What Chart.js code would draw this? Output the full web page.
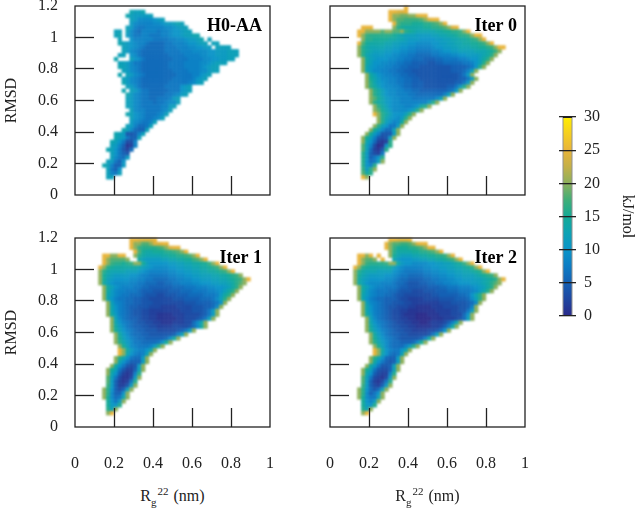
<!DOCTYPE html>
<html>
<head>
<meta charset="utf-8">
<script src="https://cdn.jsdelivr.net/npm/chart.js@4"></script>
<style>
body { margin: 0; background: #fff; overflow: hidden; }
canvas { position: absolute; }
.xname { position: absolute; width: 195px; text-align: center; font: 16px "Liberation Serif"; color: #222; line-height: 18px; }
.xname sub, .xname sup { font-size: 11px; margin-right: 1px; }
</style>
</head>
<body>
<canvas id="panel0" width="280" height="200" style="left:0;top:0"></canvas>
<canvas id="panel1" width="280" height="200" style="left:255px;top:0"></canvas>
<canvas id="panel2" width="280" height="250" style="left:0;top:225px"></canvas>
<canvas id="panel3" width="280" height="250" style="left:255px;top:225px"></canvas>
<canvas id="colorbar" width="97" height="230" style="left:540px;top:100px"></canvas>
<div class="xname" style="left:75px;top:482px">R<sub>g</sub><sup>22</sup> (nm)</div>
<div class="xname" style="left:330px;top:482px">R<sub>g</sub><sup>22</sup> (nm)</div>
<script>
// free energy cells in kJ/mol, one base-36 digit per cell, "." = no sampling
// rows run from RMSD 1.2 down in 0.025 steps, columns from Rg 0.12 up in 0.02 steps
var h0Rows = [
"",
"........dccd",
".......dcbbbbc",
"........cb9999abc",
"........b9888899abbcdc",
".......cb8778888899abcc",
"....cc.c97688887889aabcc",
"....cd.b97788777889aabccdd",
".....c..a8888877778899abbcd.c",
".....dcba98876666778889aabcc.cc",
"......cba9876666677788899aabb.cccc",
"......cb98766666677778889999aabbbccc",
".....cc.a9766666667777888899aabbbccc",
"....d...ca9766666667777888899aabbcc",
".....ccb97766666667777888899abccc",
".....dcb9876666666777788889abcc",
"......cb98766666666777788899bcc",
".....d.cb98766666666777788abc",
"......cb98766666666777778abc",
"......db98766666667777789bc",
".......cb976666667777abc",
"......d.cb97766666777abc",
".......db987766667789bc",
".......cb9877667778bc",
".......cb98777677899c",
".......cb987777788bc",
"........c988777789c",
".......dca9877789c",
"........ca987789c",
"........b98778c",
".......cb8667c",
"......dc9655c",
"....dcb4458c",
"....dcb755c",
"...dca7338",
"...cb85128",
"..dca7426",
"...ca754",
"...c976b",
"..cb75a",
".dc855b",
"..c75a",
"..c87c",
"..cc"
];
var iter0Rows = [
".............p",
".........ppoop",
".........pkkjjkkopp",
".........pkiihhhhikopp",
"..........pigggfffgghikp",
"..ppp.....kgfeeeeeffgghikop",
".ppkkkkikkiikgfedddddeeffgghkp",
".pkhggggggfedcccbbbbccddeefgghkpp",
"..kggffffeeddcbbbaaaabbccddeefghkp",
".pifeeeeddccbbaa9999aabbccddeeffghkp",
".kgeddddccbbaa9988889aabbccdddeeffghkpp",
".kgedcccbbaa99887777889aabbccccdddefhk",
".kgdcbbbaa99887766667788899aabbbcdegk",
"..kecbaaa998877666555667777889aacegk",
"..kecaa998877665555445566666778acgk",
"..kdba9988776655544444444555567agk",
"..kdb9988776655444444444455568ck",
"...keca988776655444444444445 7bk",
"...kfdb99887766554444444444557bk",
"...kgdba988776655544444444557bk",
"...kgeca9988766555444444557bgk",
"....kgeca99887766555555567bk",
"....kgeca998887766666668ck",
"....kifdba998887777779ck",
"....kgedba998888888bgk",
".....kgeca999889aegk",
".....kifdb9999acgk",
".....pkgecaaacgk",
"......kgdba9bgk",
"......kgca89ek",
".....kgca77bk",
"....kfc966ck",
"...kfb8444bk",
"..kfc8434bk",
"..kda6212g",
"..ic8301ag",
"..ic6214g",
"..gb5327",
"..gb57ag",
"..ga67ck",
"..ga8g",
"..hbgk",
"..ieg",
"..pk"
];
var iter1Rows = [
"........ppoooop",
"........pkkiikoopp",
"........pkhgggghikopp",
".........pifeefffgghikp",
".ppkkpp..kgeddddeeffgghikp",
".pkiiiik..ecbbbbccddeeffhikp",
".pkhggfghkkfcaaaaabbccddeeffhkp",
"pkgfeeeeeedcba9999aabbccddeefghkp",
"kgeddddcccba98888899aabbccddeefghkp",
"kfdcbbbbaa988777778899aabbcccddeefghk",
"kfcbaaaa9988776666778899aabbbccddefghkp",
"keca9999887766655667788899aaabbccdegik",
".keca9888776655555566677788899aabcegk",
".keb988777655544445556667777889acegk",
".kdb987766654443344455566667778begk",
".kda877665544333333444555566679cgk",
"..kc98766554443333333344 4555567ak",
"..kda87655444333222233334445569k",
"..kda87654433222222223334445 7bk",
"..keb876544332211112223333457bk",
"...kc9765543322111112233 3457ck",
"...kda8765443322111222 3369dk",
"...keb97655443322223333469ek",
"...kfca8765544433333457bk",
"....keb97665544444458ck",
"....kfca87665555569ek",
"....kgdb97766667afk",
".....kfc987778bgk",
".....pkeb988adk",
".....pkda878ck",
"....kgda766bk",
"....kda7555bk",
"...kea7434bk",
"..kfc74225ck",
"..kda52128g",
"..ic73113bk",
"..ib52127g",
"..hb5224bk",
".kga535ck",
".kg955ak",
".kf967dk",
"..fa7bk",
"..fbag",
"..gck",
"..kp"
];
var iter2Rows = [
".........ppooop",
"........pkiihhikopp",
"........pkhfffgghikpp",
".........kgeeeeffgghikp",
".ppkp.p..kfdcccddeeffgghkp",
".pkiik.p..dbaaabbccddeefghkp",
".pkhgggghkkebaa9999aabbccdefhkp",
"pkgfeeeeeeca98888899aabbccddefgkp",
"kgedddcccca98777778899aabbccddefgkp",
"kfdcbbbbaa98776666778899aabbcccdefghk",
"kecbaaaa998766555566778899aabbbccdefgkp",
"keca99988876654445566778899aaabbcdegik",
".keca98877765544444555667778889abcegk",
".keb9877766544433344455566677789bdgk",
".kdb9877665443333333445555566 7adgk",
".kda8766555433222233334444555 69cgk",
"..kc9876554443322222223334444569k",
"..kda87654433322111122233334458k",
"..kda876543322111111122 2233447bk",
"..keb87654332111000111222333 6ak",
"...kc976543322110000111222346ck",
"...kda87654332211001222358dk",
"...keb97654433221111223 58ek",
"...kfca87654433222233 46ak",
"....keb97655443333347ck",
"....kfca87654444458ek",
"....kgdb976655569fk",
".....kfc976668bgk",
".....pkea877adk",
".....pkda767ck",
"....kgda655bk",
"....kea7545bk",
"...keb7445ck",
"..kfc74335ck",
"..kda53228g",
"..ic73213bk",
"..ib52137g",
"..hb5325bk",
".kga646ck",
".kg957ak",
".kf977dk",
"..fa8bk",
"..fbag",
"..gck",
"..kp"
];
var panelNames = ["H0-AA", "Iter 0", "Iter 1", "Iter 2"];
var panelRows = [h0Rows, iter0Rows, iter1Rows, iter2Rows];
var xTickValues = [0, 0.2, 0.4, 0.6, 0.8, 1];
var yTickValues = [0, 0.2, 0.4, 0.6, 0.8, 1, 1.2];
var barTickValues = [0, 5, 10, 15, 20, 25, 30];
var colorbarTop = [30];
var colormapValues = [0, 2.5, 5, 7.5, 10, 12.5, 15, 17.5, 20, 22.5, 25, 27.5, 30];
var colormapColors = ["#2a2a8a", "#1f46a0", "#1460b4", "#0c7cc4", "#0a94c8", "#0ca2b4", "#14aa96", "#40ae78", "#8cb05c", "#c4b048", "#e8b43a", "#f5cf20", "#ffee00"];

var serif = "Liberation Serif";
var ink = "#222";

function hexPart(hex, i) {
	return parseInt(hex.substr(1 + i * 2, 2), 16);
}

function colorFor(v) {
	for (var i = 1; i < colormapValues.length; i++) {
		if (v <= colormapValues[i]) {
			var t = (v - colormapValues[i - 1]) / (colormapValues[i] - colormapValues[i - 1]);
			var a = colormapColors[i - 1], b = colormapColors[i];
			return "rgb(" + [0, 1, 2].map(function(k) {
				return Math.round(hexPart(a, k) + (hexPart(b, k) - hexPart(a, k)) * t);
			}).join(",") + ")";
		}
	}
	return colormapColors[colormapColors.length - 1];
}

function cellsFrom(rows) {
	var points = [], colors = [];
	rows.forEach(function(row, r) {
		row = row.replace(/ /g, "");
		for (var c = 0; c < row.length; c++) {
			if (row[c] === ".") continue;
			points.push({ x: (c + 6 + 0.5) * 0.02, y: 1.2 - (r + 0.5) * 0.025 });
			colors.push(colorFor(parseInt(row[c], 36)));
		}
	});
	return { points: points, colors: colors };
}

// the cells are square marks, soften them once they are all drawn so the surface reads as smooth
function softenArea(chart, radius) {
	var a = chart.chartArea, ctx = chart.ctx;
	var copy = document.createElement("canvas");
	copy.width = a.width;
	copy.height = a.height;
	copy.getContext("2d").drawImage(chart.canvas, a.left, a.top, a.width, a.height, 0, 0, a.width, a.height);
	ctx.save();
	ctx.clearRect(a.left, a.top, a.width, a.height);
	ctx.filter = "blur(" + radius + "px)";
	ctx.drawImage(copy, a.left, a.top);
	ctx.restore();
}

var frame = {
	id: "frame",
	afterDatasetsDraw: function(chart, args, opts) {
		softenArea(chart, opts.blur);
	},
	afterDraw: function(chart, args, opts) {
		var a = chart.chartArea, ctx = chart.ctx;
		ctx.save();
		ctx.strokeStyle = ink;
		ctx.lineWidth = 1.3;
		ctx.strokeRect(a.left, a.top, a.width, a.height);
		ctx.fillStyle = "#000";
		ctx.font = "bold 18px '" + serif + "'";
		ctx.textAlign = "right";
		ctx.textBaseline = "middle";
		ctx.fillText(opts.name, a.right - 8, a.top + 20);
		ctx.restore();
	}
};

function noLabelMargins(s) {
	s.paddingLeft = s.paddingRight = s.paddingTop = s.paddingBottom = 0;
}

// the end ticks would only thicken the frame
function innerTickColor(c) {
	var t = c.scale.ticks;
	return c.index === 0 || c.index === t.length - 1 ? "transparent" : ink;
}

function makePanel(i) {
	var cells = cellsFrom(panelRows[i]);
	var leftCol = i % 2 === 0, bottomRow = i >= 2;
	new Chart(document.getElementById("panel" + i), {
		type: "scatter",
		data: {
			datasets: [{
				data: cells.points,
				pointStyle: "rect",
				pointRadius: 3,
				pointBorderWidth: 0,
				pointBackgroundColor: cells.colors
			}]
		},
		plugins: [frame],
		options: {
			responsive: false,
			animation: false,
			events: [],
			layout: { padding: { top: bottomRow ? 13 : 6, right: 10 } },
			plugins: { legend: { display: false }, tooltip: { enabled: false }, frame: { name: panelNames[i], blur: i === 0 ? 1 : 1.3 } },
			scales: {
				x: {
					type: "linear", min: 0, max: 1,
					afterBuildTicks: function(s) { s.ticks = xTickValues.map(function(v) { return { value: v }; }); },
					afterFit: function(s) { s.height = bottomRow ? 48 : 5; noLabelMargins(s); },
					grid: { z: 1, drawOnChartArea: false, tickLength: -19, tickColor: innerTickColor, tickWidth: 1.3 },
					border: { display: false },
					ticks: {
						display: bottomRow, color: ink, padding: 46, maxRotation: 0, autoSkip: false,
						font: { family: serif, size: 16 },
						callback: function(v) { return String(v); }
					}
				},
				y: {
					type: "linear", min: 0, max: 1.2,
					afterBuildTicks: function(s) { s.ticks = yTickValues.map(function(v) { return { value: v }; }); },
					afterFit: function(s) { s.width = 75; noLabelMargins(s); },
					grid: { z: 1, drawOnChartArea: false, tickLength: -19, tickColor: innerTickColor, tickWidth: 1.3 },
					border: { display: false },
					title: { display: leftCol, text: "RMSD", color: ink, font: { family: serif, size: 16 }, padding: 2 },
					ticks: {
						display: leftCol, color: ink, padding: 36, autoSkip: false,
						font: { family: serif, size: 16 },
						callback: function(v) { return String(v); }
					}
				}
			}
		}
	});
}

for (var p = 0; p < 4; p++) makePanel(p);

new Chart(document.getElementById("colorbar"), {
	type: "bar",
	data: {
		labels: ["kJ/mol"],
		datasets: [{
			data: colorbarTop,
			categoryPercentage: 10 / 17,
			barPercentage: 1,
			borderColor: ink,
			borderWidth: 1,
			backgroundColor: function(c) {
				var a = c.chart.chartArea;
				if (!a) return "#000";
				var g = c.chart.ctx.createLinearGradient(0, a.bottom, 0, a.top);
				colormapValues.forEach(function(v, i) { g.addColorStop(v / 30, colormapColors[i]); });
				return g;
			}
		}]
	},
	options: {
		responsive: false,
		animation: false,
		events: [],
		layout: { padding: { top: 17, bottom: 14, left: 19 } },
		plugins: { legend: { display: false }, tooltip: { enabled: false } },
		scales: {
			x: { display: false },
			y: {
				position: "right", min: 0, max: 30,
				afterBuildTicks: function(s) { s.ticks = barTickValues.map(function(v) { return { value: v }; }); },
				afterFit: function(s) { s.width = 61; noLabelMargins(s); },
				grid: { z: 1, drawTicks: false, color: ink, lineWidth: 1.3 },
				border: { display: false },
				title: { display: true, text: "kJ/mol", color: ink, font: { family: serif, size: 16 }, padding: 0 },
				ticks: { color: ink, padding: 8, font: { family: serif, size: 16 }, callback: function(v) { return String(v); } }
			}
		}
	}
});
</script>
</body>
</html>
